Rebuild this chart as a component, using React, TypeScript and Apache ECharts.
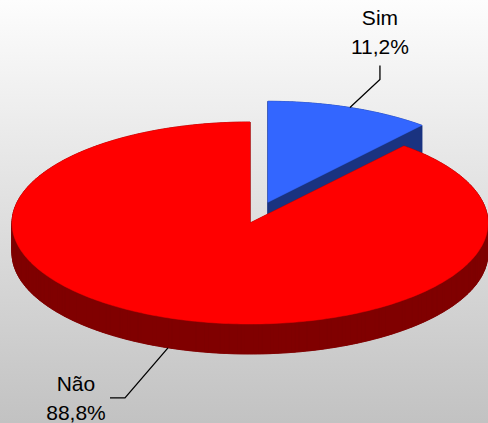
import React, { useEffect, useRef } from 'react';
import * as echarts from 'echarts';

const categories = ['Sim', 'Não'];
const values = [11.2, 88.8];
const topColors = ['#3366ff', '#ff0000'];
const sideColors = ['#1a3380', '#800000'];
const explode = [52, 0];

const CX = 250;
const CY = 223;
const RX = 238;
const RY = 101;
const DEPTH = 30;

const labelLayout = [
  { elbow: [30, -28], end: [30, -42], text: [30, -75] },
  { elbow: [-43, 50], end: [-58, 50], text: [-92, 50] },
];

export default function App() {
  const ref = useRef<HTMLDivElement>(null);
  useEffect(() => {
    const chart = echarts.init(ref.current!, null, { renderer: 'svg' });
    const total = values.reduce((a, b) => a + b, 0);
    const starts: number[] = [];
    let acc = 0;
    values.forEach((v) => {
      starts.push((acc / total) * Math.PI * 2);
      acc += v;
    });

    const renderItem = (params: any, api: any) => {
      const i = params.dataIndex;
      const v = api.value(1);
      const a0 = starts[i];
      const a1 = a0 + (v / total) * Math.PI * 2;
      const mid = (a0 + a1) / 2;
      const ox = explode[i] * Math.sin(mid);
      const oy = -explode[i] * Math.cos(mid) * (RY / RX);
      const cx = CX + ox;
      const cy = CY + oy;
      const pt = (a: number) => [cx + RX * Math.sin(a), cy - RY * Math.cos(a)];
      const n = Math.max(2, Math.ceil((a1 - a0) / (Math.PI / 180)));
      const top: number[][] = [[cx, cy]];
      for (let k = 0; k <= n; k++) top.push(pt(a0 + ((a1 - a0) * k) / n));
      const bottom = top.map((p) => [p[0], p[1] + DEPTH]);
      const sideStyle = { fill: sideColors[i], stroke: sideColors[i], lineWidth: 0.6 };
      const children: any[] = [];
      children.push({ type: 'polygon', shape: { points: bottom }, style: sideStyle });
      for (let k = 0; k < top.length; k++) {
        const p = top[k];
        const q = top[(k + 1) % top.length];
        children.push({
          type: 'polygon',
          shape: { points: [p, q, [q[0], q[1] + DEPTH], [p[0], p[1] + DEPTH]] },
          style: sideStyle,
        });
      }
      children.push({
        type: 'polygon',
        shape: { points: top },
        style: { fill: topColors[i], stroke: topColors[i], lineWidth: 0.5 },
      });

      const anchor = pt(mid);
      if (Math.cos(mid) < 0) anchor[1] += DEPTH;
      const L = labelLayout[i];
      children.push({
        type: 'polyline',
        shape: {
          points: [
            anchor,
            [anchor[0] + L.elbow[0], anchor[1] + L.elbow[1]],
            [anchor[0] + L.end[0], anchor[1] + L.end[1]],
          ],
        },
        style: { stroke: '#000', lineWidth: 1.3, fill: null },
      });
      const pct = ((v / total) * 100).toFixed(1).replace('.', ',') + '%';
      children.push({
        type: 'text',
        x: anchor[0] + L.text[0],
        y: anchor[1] + L.text[1],
        style: {
          text: categories[i] + '\n' + pct,
          fill: '#000',
          fontSize: 21,
          fontFamily: '"Liberation Sans", Arial, sans-serif',
          lineHeight: 29,
          align: 'center',
          verticalAlign: 'middle',
          textAlign: 'center',
          textVerticalAlign: 'middle',
        },
      });
      return { type: 'group', children };
    };

    chart.setOption({
      animation: false,
      backgroundColor: {
        type: 'linear',
        x: 0,
        y: 0,
        x2: 0,
        y2: 1,
        colorStops: [
          { offset: 0, color: '#fdfdfd' },
          { offset: 1, color: '#c2c2c2' },
        ],
      },
      series: [
        {
          type: 'custom',
          coordinateSystem: 'none',
          renderItem,
          data: categories.map((c, i) => ({ name: c, value: [i, values[i]] })),
        },
      ],
    });
    return () => chart.dispose();
  }, []);
  return (
    <div
      ref={ref}
      style={{ position: 'fixed', left: 0, top: 0, width: 488, height: 423 }}
    />
  );
}
